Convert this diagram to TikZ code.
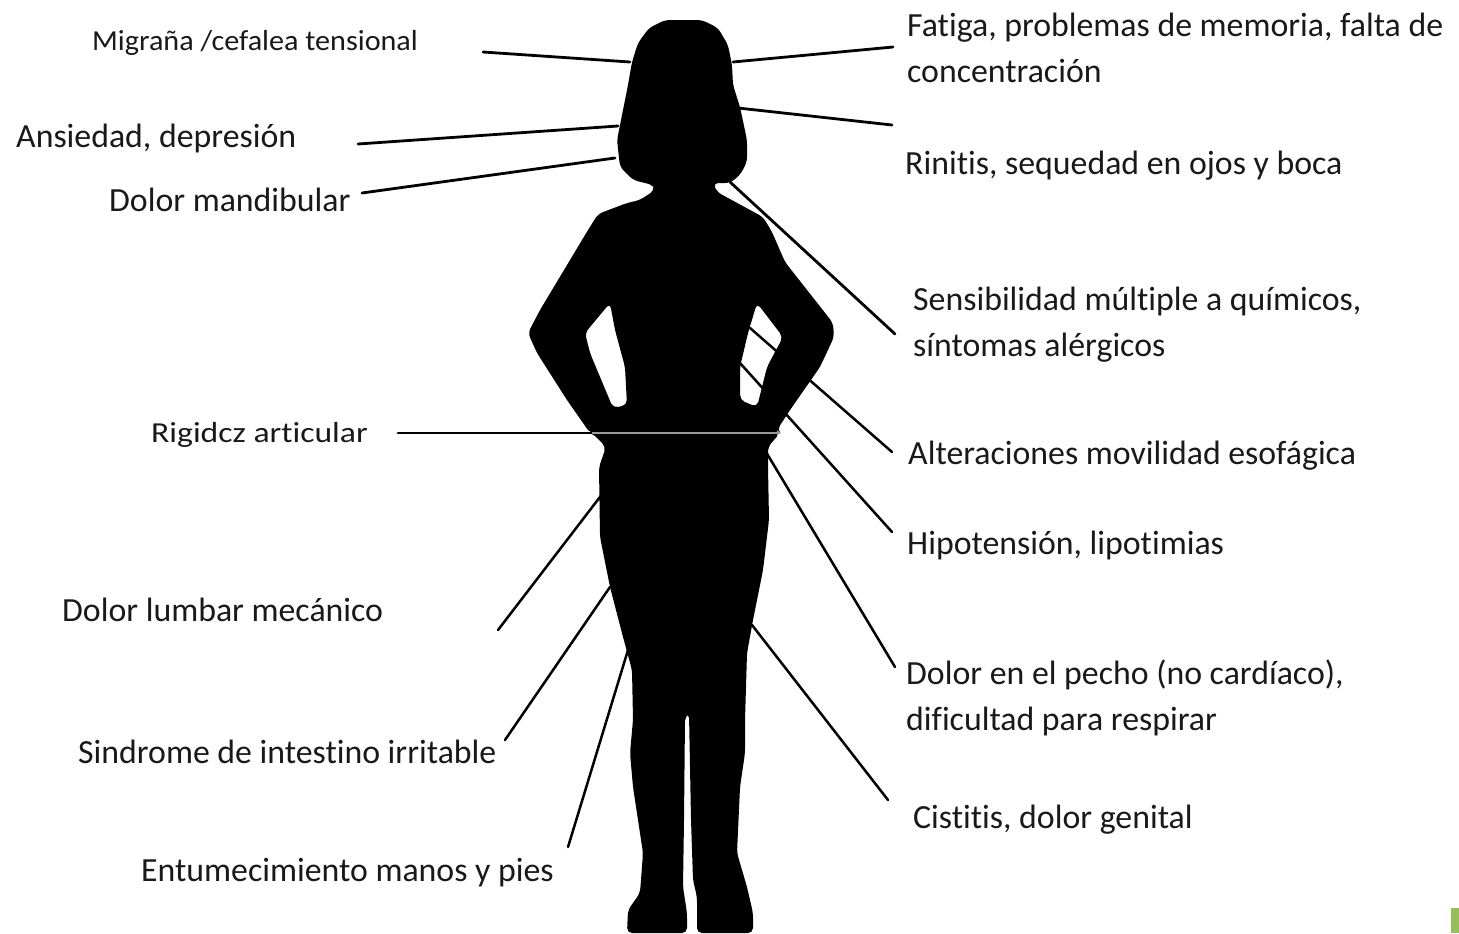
\documentclass[tikz,border=0pt]{standalone}
\usepackage{fontspec}
\setmainfont{Carlito}[Ligatures=NoCommon]
\begin{document}
\begin{tikzpicture}[x=1bp,y=-1bp,
  lbl/.style={anchor=base west,inner sep=0pt,text=black!90,
    font=\fontsize{33.8bp}{46bp}\selectfont},
  lblsmall/.style={lbl,font=\fontsize{29bp}{36bp}\selectfont\addfontfeature{FakeStretch=1.04}},
  lblnarrow/.style={lbl,font=\fontsize{29bp}{36bp}\selectfont\addfontfeature{FakeStretch=1.16}},
  conn/.style={draw=black,line width=2.8bp,line cap=round},
  thinconn/.style={conn,line width=2.5bp},
  body/.style={fill=black,even odd rule,rounded corners=5bp}]
\useasboundingbox (0,0) rectangle (1459,933);
\fill[white] (0,0) rectangle (1459,933);

% silhouette with the two gaps between arms and torso
\path[body]
  (665,20) -- (702,20) -- (718,28) -- (728,45) -- (732,65) -- (733,85)
  -- (740,107) -- (747,140) -- (747,162) -- (740,175) -- (730,183)
  -- (713,183) -- (717,192) -- (763,217) -- (772,232) -- (785,262)
  -- (833,323) -- (834,337) -- (820,367) -- (790,410) -- (777,430)
  -- (780,433) -- (768,447) -- (768,467) -- (769,520) -- (763,570)
  -- (753,620) -- (747,653) -- (745,720) -- (745,753) -- (740,787)
  -- (737,853) -- (747,887) -- (753,913) -- (753,933) -- (697,933)
  -- (697,897) -- (693,880) -- (691,820) -- (689,713) -- (685,717)
  -- (684,820) -- (683,887) -- (687,913) -- (687,933) -- (627,933)
  -- (628,910) -- (640,893) -- (643,853) -- (633,787) -- (630,753)
  -- (633,720) -- (632,670) -- (623,637) -- (610,587) -- (600,537)
  -- (599,467) -- (606,447) -- (592,433) -- (590,433) -- (567,400)
  -- (537,353) -- (528,333) -- (540,310) -- (585,235) -- (598,214)
  -- (627,203) -- (640,200) -- (655,190) -- (653,185) -- (633,180)
  -- (620,167) -- (617,140) -- (623,110) -- (628,85) -- (632,62)
  -- (638,43) -- (649,28) -- cycle
  (610,303) -- (585,333) -- (590,353) -- (613,408) -- (627,405)
  -- (625,367) -- (615,330) -- cycle
  (757,303) -- (783,337) -- (767,367) -- (757,407) -- (740,400)
  -- (740,367) -- (748,333) -- cycle;

% connector end points
\coordinate (migA) at (483,52);  \coordinate (migB) at (630,62);
\coordinate (fatA) at (733,62);  \coordinate (fatB) at (893,47);
\coordinate (rinA) at (738,108); \coordinate (rinB) at (892,125);
\coordinate (ansA) at (358,144); \coordinate (ansB) at (618,126);
\coordinate (manA) at (362,193); \coordinate (manB) at (615,158);
\coordinate (senA) at (730,182); \coordinate (senB) at (895,334);
\coordinate (altA) at (750,328); \coordinate (altB) at (892,452);
\coordinate (hipA) at (740,363); \coordinate (hipB) at (892,532);
\coordinate (pecA) at (763,447); \coordinate (pecB) at (895,667);
\coordinate (cisA) at (752,625); \coordinate (cisB) at (888,800);
\coordinate (rigA) at (398,433); \coordinate (rigB) at (592,433);
\coordinate (rigC) at (780,433);
\coordinate (lumA) at (498,630); \coordinate (lumB) at (603,493);
\coordinate (sinA) at (505,740); \coordinate (sinB) at (610,587);
\coordinate (entA) at (568,847); \coordinate (entB) at (628,650);

\draw[conn] (migA) -- (migB);
\draw[conn] (fatA) -- (fatB);
\draw[conn] (rinA) -- (rinB);
\draw[conn] (ansA) -- (ansB);
\draw[conn] (manA) -- (manB);
\draw[conn] (senA) -- (senB);
\draw[thinconn] (altA) -- (altB);
\draw[thinconn] (hipA) -- (hipB);
\draw[thinconn] (pecA) -- (pecB);
\draw[thinconn] (cisA) -- (cisB);
\draw[conn] (rigA) -- (rigB);
\draw[draw=black!40,line width=1.2bp] (rigB) -- (rigC);
\draw[thinconn] (lumA) -- (lumB);
\draw[thinconn] (sinA) -- (sinB);
\draw[thinconn] (entA) -- (entB);

% labels, left column
\node[lblsmall] (mig) at (92,50) {Migraña /cefalea tensional};
\node[lbl] (ans) at (16,147) {Ansiedad, depresión};
\node[lbl] (man) at (109,211) {Dolor mandibular};
\node[lblnarrow] (rig) at (151,442) {Rigidcz articular};
\node[lbl] (lum) at (62,621) {Dolor lumbar mecánico};
\node[lbl] (sin) at (78,763) {Sindrome de intestino irritable};
\node[lbl] (ent) at (141,881) {Entumecimiento manos y pies};

% labels, right column
\node[lbl] (fat1) at (907,36) {Fatiga, problemas de memoria, falta de};
\node[lbl] (fat2) at (907,82) {concentración};
\node[lbl] (rin) at (905,174) {Rinitis, sequedad en ojos y boca};
\node[lbl] (sen1) at (913,310) {Sensibilidad múltiple a químicos,};
\node[lbl] (sen2) at (913,356) {síntomas alérgicos};
\node[lbl] (alt) at (908,464) {Alteraciones movilidad esofágica};
\node[lbl] (hip) at (907,554) {Hipotensión, lipotimias};
\node[lbl] (pec1) at (906,684) {Dolor en el pecho (no cardíaco),};
\node[lbl] (pec2) at (906,730) {dificultad para respirar};
\node[lbl] (cis) at (913,828) {Cistitis, dolor genital};

% small green tab in the corner
\fill[fill={rgb,255:red,150;green,190;blue,90}] (1451,908) rectangle (1459,933);
\end{tikzpicture}
\end{document}
